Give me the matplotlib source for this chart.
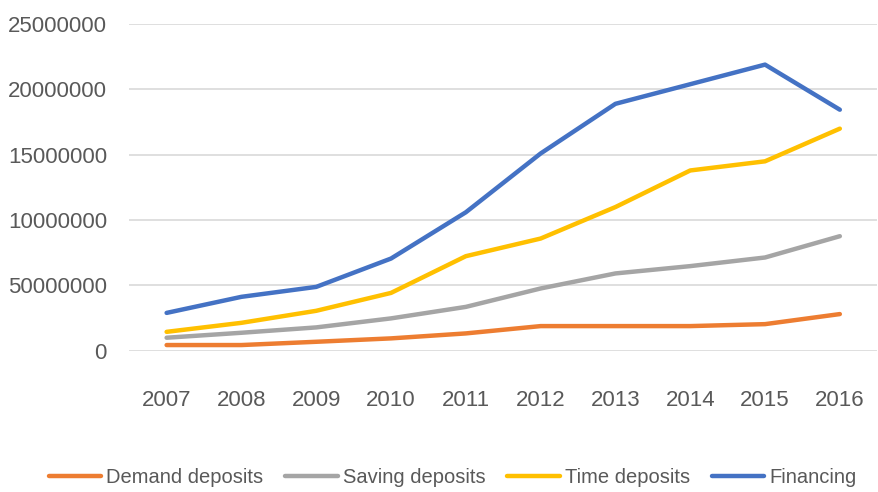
import matplotlib
matplotlib.use("Agg")
import matplotlib.pyplot as plt

years = ["2007", "2008", "2009", "2010", "2011", "2012", "2013", "2014", "2015", "2016"]
demand = [440000, 440000, 690000, 950000, 1330000, 1890000, 1890000, 1890000, 2040000, 2810000]
saving = [1000000, 1380000, 1790000, 2480000, 3360000, 4770000, 5920000, 6480000, 7140000, 8770000]
time_dep = [1450000, 2140000, 3060000, 4430000, 7240000, 8590000, 11000000, 13800000, 14500000, 17000000]
financing = [2900000, 4130000, 4890000, 7060000, 10600000, 15100000, 18900000, 20400000, 21900000, 18450000]

ytick_vals = [0, 5000000, 10000000, 15000000, 20000000, 25000000]
ytick_labels = ["0", "50000000", "10000000", "15000000", "20000000", "25000000"]

series = [
    ("Demand deposits", demand, "#ED7D31"),
    ("Saving deposits", saving, "#A5A5A5"),
    ("Time deposits", time_dep, "#FFC000"),
    ("Financing", financing, "#4472C4"),
]

fig = plt.figure(figsize=(8.79, 4.92), dpi=100)
ax = fig.add_axes([0.147, 0.287, 0.851, 0.664])

x = list(range(len(years)))
for name, vals, color in series:
    ax.plot(x, vals, color=color, lw=3.2, label=name, solid_capstyle="round")

ax.set_xlim(-0.5, len(years) - 0.5)
ax.set_ylim(0, 25000000)
ax.set_yticks(ytick_vals)
ax.set_yticklabels(ytick_labels)
ax.set_xticks(x)
ax.set_xticklabels(years)
ax.grid(axis="y", color="#D9D9D9", lw=1.2)
ax.set_axisbelow(True)
for s in ax.spines.values():
    s.set_visible(False)
ax.tick_params(length=0, colors="#595959", labelsize=16)
ax.tick_params(axis="x", pad=28)
ax.tick_params(axis="y", pad=16)
for lab in ax.get_xticklabels() + ax.get_yticklabels():
    lab.set_family("Liberation Sans")

fig.legend(loc="center", bbox_to_anchor=(0.515, 0.03), ncol=4, frameon=False,
           handlelength=2.6, columnspacing=1.1, handletextpad=0.25,
           prop={"family": "Liberation Sans", "size": 14.5},
           labelcolor="#595959")

fig.savefig("out.png", dpi=100)
